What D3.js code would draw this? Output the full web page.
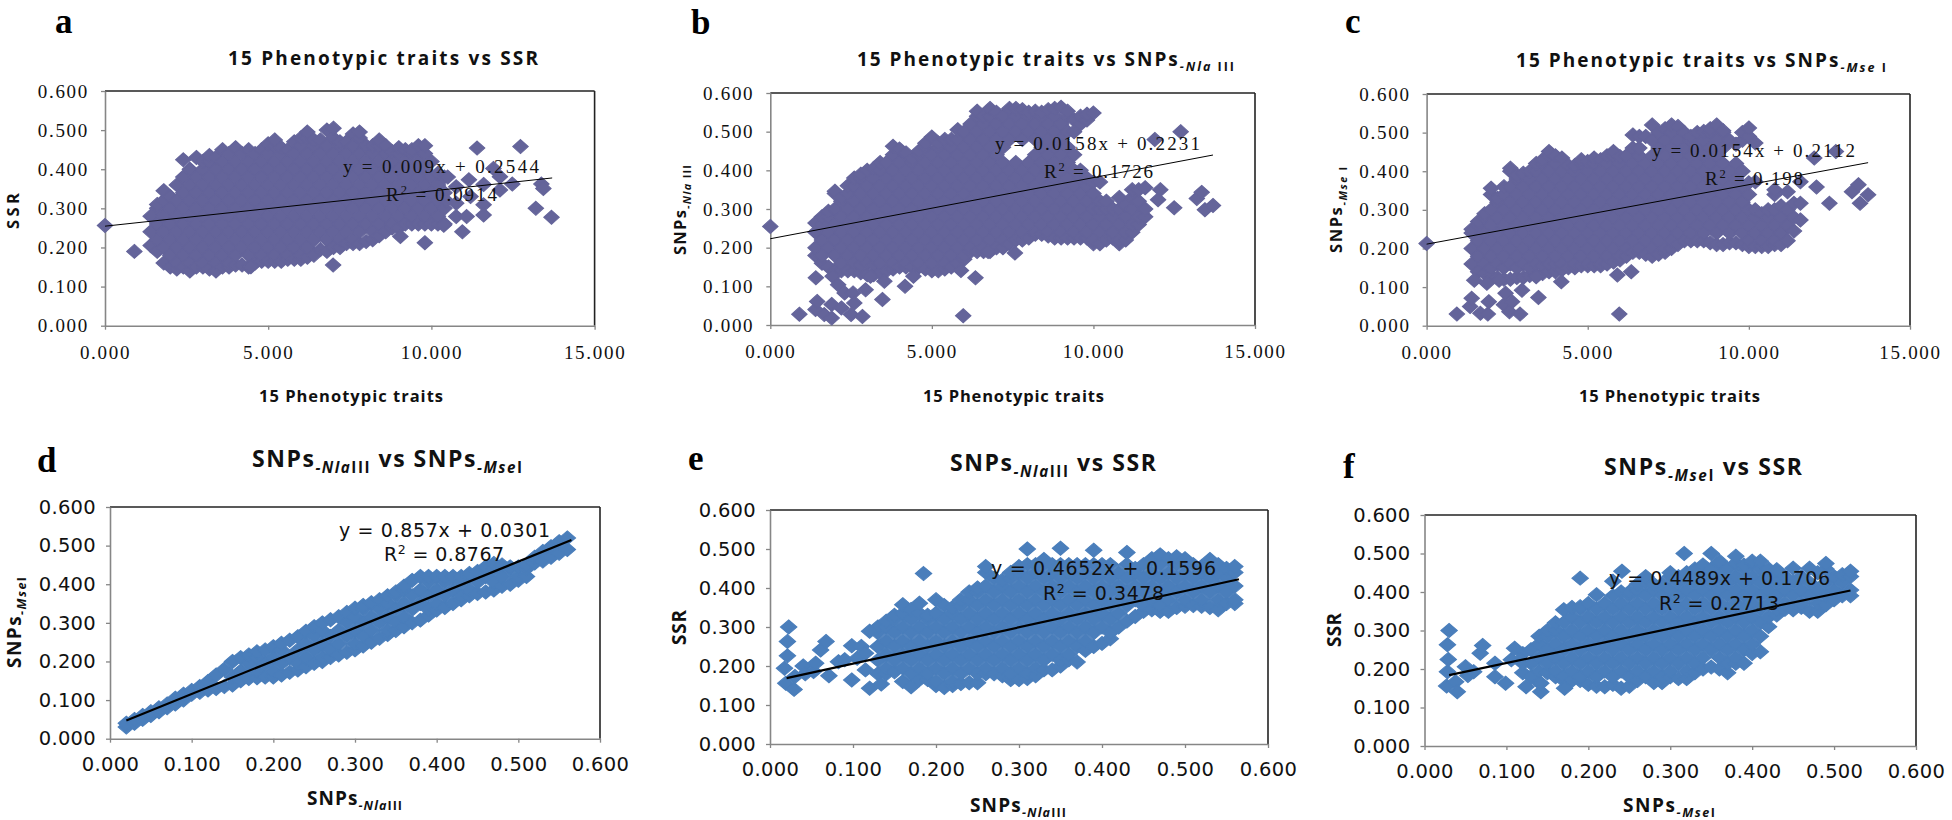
<!DOCTYPE html>
<html><head><meta charset="utf-8">
<script src="https://cdn.jsdelivr.net/npm/d3@7"></script>
<style>html,body{margin:0;padding:0;background:#fff}svg{display:block}</style>
</head><body><svg id="c" width="1952" height="820"></svg>
<script>
// Each row: x, then the y values read in that column of the cloud
const cloudA=[
[1.4,.205,.24,.28],[1.6,.19,.22,.26,.30,.31],[1.8,.16,.20,.24,.28,.32,.345],[2.0,.15,.18,.22,.26,.30,.33],
[2.2,.145,.16,.20,.24,.28,.32,.36],[2.4,.15,.18,.22,.26,.30,.34,.38,.424],[2.6,.14,.16,.20,.24,.28,.32,.36,.40],
[2.8,.15,.18,.22,.26,.30,.34,.38,.43],[3.0,.15,.16,.20,.24,.28,.32,.36,.40,.42],[3.2,.145,.18,.22,.26,.30,.34,.38,.42,.435],
[3.4,.14,.16,.20,.24,.28,.32,.36,.40,.43],[3.6,.15,.18,.22,.26,.30,.34,.38,.42,.45],[3.8,.15,.16,.20,.24,.28,.32,.36,.40,.44],
[4.0,.155,.18,.22,.26,.30,.34,.38,.42,.455],[4.2,.155,.20,.24,.28,.32,.36,.40,.44],[4.4,.15,.18,.22,.26,.30,.34,.38,.42,.45],
[4.6,.16,.20,.24,.28,.32,.36,.40,.44],[4.8,.165,.18,.22,.26,.30,.34,.38,.42,.45],[5.0,.165,.20,.24,.28,.32,.36,.40,.44,.465],
[5.2,.165,.18,.22,.26,.30,.34,.38,.42,.46,.475],[5.4,.165,.20,.24,.28,.32,.36,.40,.44,.455],[5.6,.17,.18,.22,.26,.30,.34,.38,.42,.45],
[5.8,.17,.20,.24,.28,.32,.36,.40,.44,.47],[6.0,.17,.18,.22,.26,.30,.34,.38,.42,.46,.48],[6.2,.175,.20,.24,.28,.32,.36,.40,.44,.48,.495],
[6.4,.18,.22,.26,.30,.34,.38,.42,.46,.475],[6.6,.195,.24,.28,.32,.36,.40,.44,.475],[6.8,.19,.22,.26,.30,.34,.38,.42,.46,.50],
[7.0,.20,.24,.28,.32,.36,.40,.44,.48,.505],[7.2,.20,.22,.26,.30,.34,.38,.42,.46,.47],[7.4,.21,.24,.28,.32,.36,.40,.44,.47],
[7.6,.21,.22,.26,.30,.34,.38,.42,.46,.49],[7.8,.21,.24,.28,.32,.36,.40,.44,.48,.495],[8.0,.215,.26,.30,.34,.38,.42,.46],
[8.2,.22,.24,.28,.32,.36,.40,.44,.46],[8.4,.23,.26,.30,.34,.38,.42,.46,.475],[8.6,.24,.28,.32,.36,.40,.44,.46],
[8.8,.25,.26,.30,.34,.38,.42,.445],[9.0,.25,.28,.32,.36,.40,.44,.455],[9.2,.26,.30,.34,.38,.42,.45],[9.4,.26,.28,.32,.36,.40,.44,.45],
[9.6,.26,.30,.34,.38,.42,.46],[9.8,.26,.28,.32,.36,.40,.44,.46],[10.0,.26,.30,.34,.38,.42],[10.2,.26,.28,.32,.36,.39],[10.4,.26,.30,.34,.38]];
const extraAX=[0,.9,4.47,6.99,9.05,9.8,10.38,10.45,10.5,10.76,10.76,10.76,10.95,11.08,11.15,11.2,11.4,11.6,11.6,11.6,11.9,12.1,12.1,12.48,12.73,13.2,13.37,13.43,13.68];
const extraAY=[.256,.19,.151,.155,.228,.212,.257,.32,.38,.355,.313,.279,.24,.279,.373,.33,.454,.361,.309,.283,.402,.381,.347,.362,.458,.30,.362,.351,.277];

const cloudB=[
[1.4,.18,.20,.24,.264],[1.6,.16,.18,.22,.26,.28],[1.8,.15,.20,.24,.28,.294],[2.0,.14,.18,.22,.26,.30,.34,.346],[2.2,.14,.16,.20,.24,.28,.32,.33],
[2.4,.14,.18,.22,.26,.30,.34,.36],[2.6,.14,.16,.20,.24,.28,.32,.36,.38],[2.8,.135,.155,.18,.22,.26,.30,.34,.38,.39],[3.0,.13,.16,.20,.24,.28,.32,.36,.40],
[3.2,.13,.155,.18,.22,.26,.30,.34,.38,.405],[3.4,.135,.16,.20,.24,.28,.32,.36,.40,.42],[3.6,.14,.18,.22,.26,.30,.34,.38,.42],[3.8,.145,.16,.20,.24,.28,.32,.36,.40,.44,.462],
[4.0,.15,.18,.22,.26,.30,.34,.38,.42,.455],[4.2,.15,.16,.20,.24,.28,.32,.36,.40,.44,.445],[4.4,.15,.18,.22,.26,.30,.34,.38,.42,.43],[4.6,.15,.16,.20,.24,.28,.32,.36,.40,.44,.45],
[4.8,.145,.18,.22,.26,.30,.34,.38,.42,.46,.47],[5.0,.14,.16,.20,.24,.28,.32,.36,.40,.44,.486],[5.2,.14,.18,.22,.26,.30,.34,.38,.42,.46,.47],[5.4,.145,.16,.20,.24,.28,.32,.36,.40,.44,.48],
[5.6,.15,.18,.22,.26,.30,.34,.38,.42,.46,.48],[5.8,.16,.20,.24,.28,.32,.36,.40,.44,.48,.505],[6.0,.17,.18,.22,.26,.30,.34,.38,.42,.46,.50],[6.2,.19,.20,.24,.28,.32,.36,.40,.44,.48,.52],
[6.4,.19,.22,.26,.30,.34,.38,.42,.46,.50,.54,.553],[6.6,.19,.20,.24,.28,.32,.36,.40,.44,.48,.52,.54],[6.8,.19,.22,.26,.30,.34,.38,.42,.46,.50,.54,.56],[7.0,.20,.24,.28,.32,.36,.40,.44,.48,.52,.55],
[7.2,.20,.22,.26,.30,.34,.38,.42,.46,.50,.54],[7.4,.21,.24,.28,.32,.36,.40,.48,.52,.56],[7.6,.22,.26,.30,.34,.38,.42,.50,.54,.56],[7.8,.22,.24,.28,.32,.36,.40,.48,.52,.557],
[8.0,.225,.26,.30,.34,.38,.42,.50,.54,.55],[8.2,.235,.24,.28,.32,.36,.40,.44,.48,.52,.553],[8.4,.235,.26,.30,.34,.38,.42,.46,.50,.54,.55],[8.6,.23,.24,.28,.32,.36,.40,.44,.48,.52,.557],
[8.8,.225,.26,.30,.34,.38,.42,.46,.50,.54,.56],[9.0,.225,.24,.28,.32,.36,.40,.44,.48,.52,.563],[9.2,.225,.26,.30,.34,.38,.42,.46,.50,.54,.553],[9.4,.225,.24,.28,.32,.36,.40,.44,.50,.53],
[9.6,.225,.26,.30,.34,.38,.40,.52,.54],[9.8,.225,.24,.28,.32,.36,.38,.53,.545],[10.0,.21,.22,.26,.30,.34,.37,.548],[10.2,.21,.24,.28,.30,.32,.37],[10.4,.22,.26,.30,.32],[10.6,.225,.24,.28,.30],
[10.8,.21,.22,.26,.30,.33],[11.0,.22,.24,.28,.31],[11.2,.24,.26,.30,.33,.35],[11.4,.26,.28,.32,.35],[11.6,.28,.30,.355]];
const extraBX=[0,.9,1.41,1.4,1.45,1.67,1.9,1.9,1.93,2.1,2.2,2.3,2.5,2.56,2.6,2.85,2.95,3.1,3.47,3.53,4.17,4.43,5.9,5.97,6.35,6.74,7.57,11.9,12,12.07,12.5,12.7,13.2,13.35,13.45,13.7];
const extraBY=[.255,.028,.122,.04,.061,.027,.053,.018,.126,.104,.044,.083,.027,.083,.057,.022,.091,.126,.066,.113,.10,.126,.141,.024,.122,.19,.186,.48,.324,.35,.303,.50,.327,.343,.298,.309];

const cloudC=[
[1.4,.16,.20,.24,.25],[1.6,.14,.18,.22,.26,.27],[1.8,.135,.16,.20,.24,.28,.29],[2.0,.13,.15,.18,.22,.26,.30,.34,.356],[2.2,.125,.16,.20,.24,.28,.32,.33],
[2.4,.12,.15,.18,.22,.26,.30,.34,.36],[2.6,.12,.16,.20,.24,.28,.32,.36,.40,.408],[2.8,.125,.15,.18,.22,.26,.30,.34,.38,.39],[3.0,.125,.16,.20,.24,.28,.32,.36,.395],
[3.2,.13,.15,.18,.22,.26,.30,.34,.38,.40],[3.4,.13,.16,.20,.24,.28,.32,.36,.40,.42],[3.6,.135,.155,.18,.22,.26,.30,.34,.38,.42,.43],[3.8,.14,.16,.20,.24,.28,.32,.36,.40,.44,.451],
[4.0,.14,.16,.18,.22,.26,.30,.34,.38,.42,.44],[4.2,.145,.16,.20,.24,.28,.32,.36,.40,.434],[4.4,.15,.18,.22,.26,.30,.34,.38,.415],[4.6,.15,.16,.20,.24,.28,.32,.36,.40,.415],
[4.8,.155,.18,.22,.26,.30,.34,.38,.42,.43],[5.0,.155,.16,.20,.24,.28,.32,.36,.40,.425],[5.2,.155,.18,.22,.26,.30,.34,.38,.42,.434],[5.4,.155,.16,.20,.24,.28,.32,.36,.40,.43],
[5.6,.16,.18,.22,.26,.30,.34,.38,.42,.44],[5.8,.165,.20,.24,.28,.32,.36,.40,.44,.451],[6.0,.17,.18,.22,.26,.30,.34,.38,.42,.438],[6.2,.18,.20,.24,.28,.32,.36,.40,.44],
[6.4,.19,.22,.26,.30,.34,.38,.42,.46,.494],[6.6,.19,.20,.24,.28,.32,.36,.40,.44,.46,.49],[6.8,.185,.22,.26,.30,.34,.38,.42,.49],[7.0,.18,.20,.24,.28,.32,.36,.40,.44,.48,.52],
[7.2,.185,.22,.26,.30,.34,.38,.42,.46,.50],[7.4,.19,.20,.24,.28,.32,.36,.40,.44,.48,.51],[7.6,.20,.22,.26,.30,.34,.38,.42,.46,.50,.52],[7.8,.21,.24,.28,.32,.36,.40,.44,.48,.516],
[8.0,.22,.26,.30,.34,.38,.42,.46,.50],[8.2,.22,.24,.28,.32,.36,.40,.44,.48,.49],[8.4,.22,.26,.30,.34,.38,.42,.46,.50],[8.6,.22,.24,.28,.32,.36,.40,.44,.48,.503],
[8.8,.215,.26,.30,.34,.38,.42,.46,.50,.51],[9.0,.21,.24,.28,.32,.36,.40,.44,.48,.52],[9.2,.21,.26,.30,.34,.38,.42,.46,.50,.505],[9.4,.215,.24,.28,.32,.36,.40,.48],
[9.6,.215,.26,.30,.34,.38,.42,.47],[9.8,.21,.24,.28,.32,.36,.40,.48,.50],[10.0,.205,.22,.26,.30,.34,.37,.49,.512],[10.2,.205,.24,.28,.30,.373,.473],[10.4,.205,.22,.26,.29],
[10.6,.205,.24,.28,.30],[10.8,.21,.22,.26,.30,.34,.352],[11.0,.21,.24,.28,.31],[11.2,.22,.26,.30,.347],[11.4,.245,.28,.317],[11.6,.274,.317,.373]];
const extraCX=[0,.94,1.35,1.4,1.48,1.67,1.87,1.9,1.93,2.25,2.4,2.45,2.57,2.65,2.9,2.96,3.4,3.47,4.18,5.92,5.98,6.35,12.03,12.1,12.5,12.7,13.2,13.4,13.45,13.7];
const extraCY=[.213,.03,.05,.071,.118,.032,.11,.03,.062,.118,.054,.084,.036,.062,.03,.092,.127,.073,.114,.131,.03,.14,.434,.359,.317,.451,.347,.365,.317,.339];

const cloudD=[
[.02,.03,.04],[.03,.04,.05],[.04,.05,.06],[.05,.06,.07],[.06,.07,.08],[.07,.08,.09],[.08,.09,.105],[.09,.10,.115],[.10,.115,.125],[.11,.12,.135],
[.12,.126,.148],[.13,.13,.165],[.14,.135,.18],[.15,.139,.16,.20],[.16,.15,.175,.21],[.17,.156,.195,.217],[.18,.158,.175,.21,.225],[.19,.16,.195,.23],[.20,.16,.175,.21,.238],
[.21,.165,.195,.23,.247],[.22,.172,.21,.255],[.23,.178,.195,.23,.264],[.24,.186,.21,.245,.278],[.25,.195,.23,.265,.29],[.26,.20,.21,.245,.28,.30],[.27,.21,.23,.265,.308],
[.28,.217,.245,.28,.316],[.29,.224,.265,.30,.327],[.30,.23,.245,.28,.315,.338],[.31,.24,.265,.30,.335,.345],[.32,.25,.28,.315,.352],[.33,.26,.30,.335,.36],[.34,.27,.28,.315,.35,.37],
[.35,.28,.30,.335,.37,.38],[.36,.29,.315,.35,.385,.395],[.37,.30,.335,.37,.41],[.38,.307,.35,.385,.42],[.39,.32,.335,.37,.405,.42],[.40,.333,.35,.385,.42],[.41,.34,.37,.405,.42],
[.42,.35,.385,.42],[.43,.36,.37,.405,.42],[.44,.37,.385,.42,.428],[.45,.376,.405,.433],[.46,.38,.42,.445],[.47,.385,.405,.44,.454],[.48,.395,.42,.45],[.49,.40,.44,.445],
[.50,.41,.42,.445],[.51,.42,.44,.45],[.52,.455,.47],[.53,.46,.485],[.54,.47,.497],[.55,.48,.51],[.56,.49,.52]];

const cloudE=[
[.13,.18,.215,.25,.285,.30],[.14,.18,.195,.23,.265,.30,.315],[.15,.185,.215,.25,.285,.32,.33],[.16,.16,.195,.23,.265,.30,.335,.357],[.17,.147,.18,.215,.25,.285,.32,.345],
[.18,.165,.195,.23,.265,.30,.335,.361],[.19,.165,.18,.215,.25,.285,.32,.33],[.20,.15,.16,.195,.23,.265,.30,.335,.37],[.21,.145,.18,.215,.25,.285,.32,.355],[.22,.15,.16,.195,.23,.265,.30,.335,.35],
[.23,.155,.18,.215,.25,.285,.32,.355,.37],[.24,.157,.195,.23,.265,.30,.335,.37,.39],[.25,.157,.18,.215,.25,.285,.32,.355,.39,.40],[.26,.18,.195,.23,.265,.30,.335,.37,.405,.44,.455],
[.27,.18,.215,.25,.285,.32,.355,.39,.425],[.28,.175,.195,.23,.265,.30,.335,.37,.405,.42],[.29,.165,.18,.215,.25,.285,.32,.355,.39,.425,.44],[.30,.165,.195,.23,.265,.30,.335,.37,.405,.44,.455],
[.31,.168,.18,.215,.25,.285,.32,.355,.39,.425,.46,.50],[.32,.175,.195,.23,.265,.30,.335,.37,.405,.44,.46],[.33,.19,.215,.25,.285,.32,.355,.39,.425,.46,.473],[.34,.19,.23,.265,.30,.335,.37,.405,.44,.46],
[.35,.20,.215,.25,.285,.32,.355,.39,.425,.46,.502],[.36,.216,.23,.265,.30,.335,.37,.405,.44,.46],[.37,.21,.25,.285,.32,.355,.39,.425,.46],[.38,.24,.265,.30,.335,.37,.405,.44,.46],
[.39,.25,.285,.32,.355,.39,.425,.46,.497],[.40,.258,.30,.335,.37,.405,.44,.46],[.41,.27,.285,.32,.355,.39,.425,.46],[.42,.30,.335,.37,.405,.44],[.43,.315,.355,.39,.425,.46,.491],
[.44,.327,.37,.405,.44,.45],[.45,.34,.355,.39,.425,.46],[.46,.344,.37,.405,.44,.475],[.47,.34,.355,.39,.425,.46,.485],[.48,.34,.37,.405,.44,.475],[.49,.35,.39,.425,.46,.48],
[.50,.353,.37,.405,.44,.475],[.51,.355,.39,.425,.46],[.52,.353,.37,.405,.44,.455],[.53,.35,.39,.425,.46,.473],[.54,.344,.37,.405,.44,.46],[.55,.36,.39,.425,.45],[.56,.36,.37,.405,.44,.455]];
const extraEX=[.0175,.019,.021,.021,.0225,.029,.03,.04,.0425,.0525,.055,.061,.0675,.071,.0825,.09,.0985,.0985,.105,.11,.115,.115,.12,.12,.134,.185];
const extraEY=[.194,.156,.263,.226,.30,.14,.173,.20,.18,.186,.207,.241,.263,.175,.211,.216,.164,.252,.22,.25,.19,.233,.289,.143,.154,.437];

const cloudF=[
[.12,.19,.215,.24],[.13,.18,.215,.25],[.14,.165,.195,.23,.265,.285],[.15,.19,.215,.25,.285,.30],[.16,.18,.195,.23,.265,.30,.32],[.17,.17,.18,.215,.25,.285,.32,.354],
[.18,.17,.195,.23,.265,.30,.335,.36],[.19,.17,.18,.215,.25,.285,.32,.355,.362],[.20,.16,.195,.23,.265,.30,.335,.37],[.21,.155,.18,.215,.25,.285,.32,.355,.393],[.22,.154,.195,.23,.265,.30,.335,.37],
[.23,.16,.18,.215,.25,.285,.32,.355,.39,.428],[.24,.15,.195,.23,.265,.30,.335,.37,.40],[.25,.155,.18,.215,.25,.285,.32,.355,.39,.40],[.26,.17,.195,.23,.265,.30,.335,.37,.405,.42],
[.27,.18,.215,.25,.285,.32,.355,.39,.425,.44],[.28,.165,.195,.23,.265,.30,.335,.37,.405,.42],[.29,.165,.18,.215,.25,.285,.32,.355,.39,.42],[.30,.18,.195,.23,.265,.30,.335,.37,.405,.44,.45],
[.31,.175,.215,.25,.285,.32,.355,.39,.425,.44],[.32,.175,.195,.23,.265,.30,.335,.37,.405,.44,.45],[.33,.19,.215,.25,.285,.32,.355,.39,.425,.46],[.34,.20,.23,.265,.30,.335,.37,.405,.44,.47],
[.35,.205,.25,.285,.32,.355,.39,.425,.46,.50],[.36,.20,.23,.265,.30,.335,.37,.405,.44,.475,.48],[.37,.19,.215,.25,.285,.32,.355,.39,.425,.46],[.38,.215,.23,.265,.30,.335,.37,.405,.44,.475,.493],
[.39,.215,.25,.285,.32,.355,.39,.425,.46,.47],[.40,.24,.265,.30,.335,.37,.405,.44,.475,.48],[.41,.245,.285,.32,.355,.39,.425,.46,.48],[.42,.31,.335,.37,.405,.44,.46],[.43,.34,.355,.39,.425,.458],
[.44,.355,.37,.405,.44],[.45,.354,.39,.425,.462],[.46,.36,.37,.405,.44],[.47,.35,.39,.425,.462],[.48,.35,.37,.405,.45],[.49,.367,.39,.425,.46,.474],[.50,.38,.405,.44],[.51,.39,.425,.445],[.52,.39,.405,.44,.454]];
const extraFX=[.027,.028,.028,.029,.03,.038,.04,.05,.053,.06,.068,.071,.086,.086,.099,.106,.11,.117,.124,.142,.142,.171,.19,.241,.317];
const extraFY=[.156,.263,.193,.225,.30,.167,.141,.206,.183,.193,.241,.261,.215,.18,.163,.224,.254,.224,.154,.141,.163,.15,.436,.454,.50];

const phenoTicks=[0,5,10,15];
const ratioTicks=[0,.1,.2,.3,.4,.5,.6];
const trendAX=[0,13.7],trendAY=[.2544,.3777];
const trendBX=[0,13.7],trendBY=[.2231,.4396];
const trendCX=[0,13.7],trendCY=[.2112,.4222];
const trendDX=[.02,.565],trendDY=[.0472,.5143];
const trendEX=[.02,.565],trendEY=[.1689,.4224];
const trendFX=[.03,.52],trendFY=[.1841,.404];

const svg=d3.select("#c");
const PURPLE="#64649a",BLUE="#4a7ebb";
const SERIF="'Liberation Serif',serif",SANS="'Open Sans',sans-serif",DEJA="'DejaVu Sans',sans-serif";

function rich(parts,o){
  const t=svg.append("text").attr("x",o.x).attr("y",o.y)
    .attr("font-family",o.font).attr("font-size",o.size).attr("font-weight",o.weight||400)
    .attr("fill",o.fill||"#000");
  if(o.rot) t.attr("transform",`rotate(-90 ${o.x} ${o.y})`);
  let shift=0;
  parts.forEach(p=>{
    const want=p.sub?o.size*.28:p.sup?-o.size*.38:0;
    const ts=t.append("tspan").text(p.t).attr("dy",want-shift)
      .attr("font-size",(p.sub||p.sup)?o.size*.66:o.size);
    if(p.it) ts.attr("font-style","italic");
    shift=want;
  });
  t.style("white-space","pre");
  if(o.w){
    const n=parts.map(p=>p.t).join("").length;
    const nat=t.node().getComputedTextLength();
    t.style("letter-spacing",((o.w-nat)/(n-1)).toFixed(3)+"px");
  }
  return t;
}

function panel(p){
  const x=d3.scaleLinear().domain(p.xDom).range([p.L,p.R]);
  const y=d3.scaleLinear().domain([0,.6]).range([p.B,p.T]);
  const styleAxis=(g,sp)=>{
    g.select(".domain").attr("stroke","#868686").attr("stroke-width",1.6);
    g.selectAll(".tick line").attr("stroke","#868686").attr("stroke-width",1.3);
    g.selectAll("text").attr("font-family",p.tickFont).attr("font-size",p.tickSize).attr("fill","#111")
      .style("letter-spacing",sp+"px");
  };
  svg.append("line").attr("x1",x.range()[0]).attr("x2",x.range()[1]).attr("y1",p.T).attr("y2",p.T).attr("stroke","#222").attr("stroke-width",1.6);
  svg.append("line").attr("x1",p.R).attr("x2",p.R).attr("y1",p.T).attr("y2",p.B).attr("stroke","#222").attr("stroke-width",1.6);
  svg.append("g").attr("transform",`translate(${p.L},0)`)
    .call(d3.axisLeft(y).tickValues(ratioTicks).tickFormat(d3.format(".3f")).tickSize(4).tickSizeOuter(0).tickPadding(p.padY))
    .call(g=>styleAxis(g,p.tickSp));
  svg.append("g").attr("transform",`translate(0,${p.B})`)
    .call(d3.axisBottom(x).tickValues(p.xTicks).tickFormat(d3.format(".3f")).tickSize(4).tickSizeOuter(0).tickPadding(p.padX))
    .call(g=>styleAxis(g,p.tickSp));
  const pts=[];
  p.cloud.forEach(r=>r.slice(1).forEach(v=>pts.push([r[0],v])));
  (p.exX||[]).forEach((v,i)=>pts.push([v,p.exY[i]]));
  svg.append("g").attr("fill",p.color).attr("stroke",p.color).attr("stroke-width",1.1).attr("stroke-linejoin","miter")
    .selectAll("path").data(pts).join("path")
    .attr("d",`M0,${-p.dh}L${p.dw},0L0,${p.dh}L${-p.dw},0Z`)
    .attr("transform",d=>`translate(${x(d[0])},${y(d[1])})`);
  svg.append("path").attr("fill","none").attr("stroke","#000").attr("stroke-width",p.lw)
    .attr("d",d3.line().x(d=>x(d[0])).y(d=>y(d[1]))(p.tx.map((v,i)=>[v,p.ty[i]])));
  rich([{t:p.eq}],{x:p.eq1[0],y:p.eq1[1],w:p.eq1[2],font:p.tickFont,size:p.eqSize,fill:"#111"});
  rich([{t:"R"},{t:"2",sup:1},{t:p.r2}],{x:p.eq2[0],y:p.eq2[1],w:p.eq2[2],font:p.tickFont,size:p.eqSize,fill:"#111"});
  rich(p.title,{x:p.tp[0],y:p.tp[1],w:p.tp[2],font:SANS,size:p.tSize,weight:700,fill:"#111"});
  rich(p.xTitle,{x:p.xp[0],y:p.xp[1],w:p.xp[2],font:SANS,size:p.aSize,weight:700,fill:"#111"});
  rich(p.yTitle,{x:p.yp[0],y:p.yp[1],w:p.yp[2],font:SANS,size:p.aSize,weight:700,fill:"#111",rot:1});
  svg.append("text").attr("x",p.lp[0]).attr("y",p.lp[1]).text(p.letter)
    .attr("font-family",SERIF).attr("font-weight",700).attr("font-size",35);
}

const topRow={xDom:[0,15],xTicks:phenoTicks,color:PURPLE,dw:7.7,dh:7,lw:1,tickFont:SERIF,tickSize:19,tickSp:1.7,padY:12,padX:16,eqSize:19,tSize:19,aSize:16.5};
const botRow={xDom:[0,.6],xTicks:ratioTicks,color:BLUE,dw:8.2,dh:7,lw:2.2,tickFont:DEJA,tickSize:19.5,tickSp:.3,padY:10,padX:14,eqSize:19,tSize:23,aSize:19};
const PH=[{t:"15 Phenotypic traits"}];
const nla=[{t:"SNPs"},{t:"-Nla",sub:1,it:1},{t:"III",sub:1}];
const mse=[{t:"SNPs"},{t:"-Mse",sub:1,it:1},{t:"I",sub:1}];

panel({...topRow,L:105,R:594.6,T:91,B:325.7,cloud:cloudA,exX:extraAX,exY:extraAY,tx:trendAX,ty:trendAY,
  eq:"y = 0.009x + 0.2544",r2:" = 0.0914",eq1:[343,173,196],eq2:[386,201,111],
  title:[{t:"15 Phenotypic traits vs SSR"}],tp:[228,65,310],xTitle:PH,xp:[259,402,184],yTitle:[{t:"SSR"}],yp:[19,229,36],letter:"a",lp:[55,33]});
panel({...topRow,L:770.3,R:1255,T:93,B:325,cloud:cloudB,exX:extraBX,exY:extraBY,tx:trendBX,ty:trendBY,
  eq:"y = 0.0158x + 0.2231",r2:" = 0.1726",eq1:[995,150,205],eq2:[1044,178,109],
  title:[{t:"15 Phenotypic traits vs SNPs"},{t:"-Nla ",sub:1,it:1},{t:"III",sub:1}],tp:[857,66,377],xTitle:PH,xp:[923,402,181],yTitle:[{t:"SNPs"},{t:"-Nla ",sub:1,it:1},{t:"III",sub:1}],yp:[686,255,90],letter:"b",lp:[691,34]});
panel({...topRow,L:1426.6,R:1910,T:94,B:325.7,cloud:cloudC,exX:extraCX,exY:extraCY,tx:trendCX,ty:trendCY,
  eq:"y = 0.0154x + 0.2112",r2:" = 0.198",eq1:[1652,157,203],eq2:[1705,185,98],
  title:[{t:"15 Phenotypic traits vs SNPs"},{t:"-Mse ",sub:1,it:1},{t:"I",sub:1}],tp:[1516,67,370],xTitle:PH,xp:[1579,402,181],yTitle:[{t:"SNPs"},{t:"-Mse ",sub:1,it:1},{t:"I",sub:1}],yp:[1342,253,86],letter:"c",lp:[1345,33]});
panel({...botRow,L:110,R:600,T:507,B:738.7,cloud:cloudD,tx:trendDX,ty:trendDY,
  eq:"y = 0.857x + 0.0301",r2:" = 0.8767",eq1:[339,537,211],eq2:[384,561,120],
  title:[...nla,{t:" vs SNPs"},...mse.slice(1)],tp:[252,467,270],xTitle:nla,xp:[307,805,95],yTitle:mse,yp:[21,668,91],letter:"d",lp:[37,472]});
panel({...botRow,L:770,R:1268,T:510,B:744,cloud:cloudE,exX:extraEX,exY:extraEY,tx:trendEX,ty:trendEY,
  eq:"y = 0.4652x + 0.1596",r2:" = 0.3478",eq1:[991,575,225],eq2:[1043,600,121],
  title:[...nla,{t:" vs SSR"}],tp:[950,471,206],xTitle:nla,xp:[970,812,96],yTitle:[{t:"SSR"}],yp:[686,645,35],letter:"e",lp:[688,470]});
panel({...botRow,L:1424.5,R:1916,T:515,B:746,cloud:cloudF,exX:extraFX,exY:extraFY,tx:trendFX,ty:trendFY,
  eq:"y = 0.4489x + 0.1706",r2:" = 0.2713",eq1:[1609,585,221],eq2:[1659,610,120],
  title:[...mse,{t:" vs SSR"}],tp:[1604,475,198],xTitle:mse,xp:[1623,812,92],yTitle:[{t:"SSR"}],yp:[1341,647,34],letter:"f",lp:[1343,478]});
</script></body></html>
